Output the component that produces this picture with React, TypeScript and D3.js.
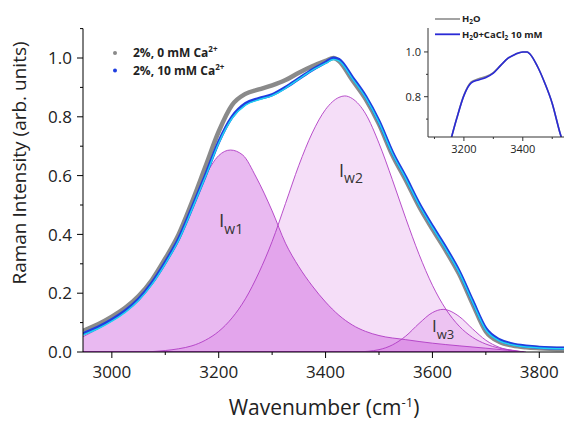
import * as d3 from 'd3';

// main spectra (wavenumber grid shared by the measured curves and the fit)
const specWn = [2946, 2975, 3000, 3025, 3050, 3075, 3100, 3125, 3150, 3175, 3200, 3225, 3250, 3275, 3300, 3325, 3350, 3375, 3400, 3415, 3425, 3450, 3475, 3500, 3525, 3550, 3575, 3600, 3625, 3650, 3675, 3700, 3725, 3750, 3775, 3800, 3850];
const spec0mM = [0.072, 0.095, 0.12, 0.15, 0.19, 0.245, 0.318, 0.4, 0.51, 0.63, 0.75, 0.84, 0.878, 0.893, 0.907, 0.925, 0.95, 0.972, 0.99, 1.0, 0.99, 0.925, 0.86, 0.775, 0.67, 0.585, 0.495, 0.418, 0.345, 0.265, 0.165, 0.07, 0.035, 0.022, 0.016, 0.013, 0.01];
const spec10mM = [0.062, 0.085, 0.11, 0.14, 0.18, 0.235, 0.305, 0.385, 0.49, 0.6, 0.715, 0.8, 0.845, 0.862, 0.875, 0.9, 0.93, 0.96, 0.985, 1.0, 0.995, 0.935, 0.87, 0.785, 0.68, 0.595, 0.505, 0.428, 0.355, 0.275, 0.175, 0.08, 0.042, 0.027, 0.02, 0.016, 0.013];
const fitSum = [0.058, 0.08, 0.105, 0.135, 0.175, 0.23, 0.3, 0.38, 0.485, 0.595, 0.71, 0.795, 0.84, 0.858, 0.872, 0.897, 0.928, 0.958, 0.982, 0.995, 0.99, 0.93, 0.865, 0.78, 0.675, 0.59, 0.5, 0.423, 0.35, 0.27, 0.17, 0.075, 0.038, 0.024, 0.017, 0.014, 0.011];

// fitted components
const iw1Wn = [2946, 2975, 3000, 3025, 3050, 3075, 3100, 3125, 3150, 3175, 3200, 3222, 3245, 3270, 3300, 3325, 3350, 3375, 3400, 3425, 3450, 3475, 3500, 3550, 3600, 3650, 3700, 3740, 3768];
const iw1Val = [0.052, 0.08, 0.108, 0.14, 0.18, 0.24, 0.32, 0.405, 0.51, 0.6, 0.668, 0.687, 0.67, 0.595, 0.48, 0.37, 0.29, 0.225, 0.17, 0.125, 0.092, 0.07, 0.056, 0.042, 0.03, 0.021, 0.013, 0.006, 0];
const iw2Wn = [3060, 3100, 3125, 3150, 3175, 3200, 3225, 3250, 3275, 3300, 3325, 3350, 3375, 3400, 3425, 3436, 3450, 3475, 3500, 3525, 3550, 3575, 3600, 3625, 3650, 3675, 3700, 3725, 3750, 3772];
const iw2Val = [0, 0.005, 0.011, 0.021, 0.04, 0.07, 0.116, 0.181, 0.269, 0.376, 0.505, 0.635, 0.745, 0.825, 0.866, 0.871, 0.862, 0.81, 0.71, 0.586, 0.455, 0.332, 0.227, 0.146, 0.088, 0.05, 0.027, 0.013, 0.006, 0];
const iw3Wn = [3460, 3500, 3525, 3550, 3575, 3600, 3620, 3650, 3675, 3700, 3725, 3750, 3775];
const iw3Val = [0, 0.008, 0.024, 0.054, 0.097, 0.134, 0.145, 0.121, 0.079, 0.04, 0.016, 0.005, 0];

// inset spectra
const insetWn = [3150, 3175, 3200, 3225, 3250, 3275, 3300, 3325, 3350, 3375, 3400, 3415, 3425, 3450, 3475, 3500, 3525, 3545];
const insetH2O = [0.58, 0.7, 0.807, 0.866, 0.88, 0.89, 0.908, 0.94, 0.972, 0.99, 1.0, 1.0, 0.99, 0.935, 0.86, 0.77, 0.645, 0.56];
const insetCaCl2 = [0.58, 0.7, 0.805, 0.862, 0.875, 0.886, 0.905, 0.94, 0.972, 0.99, 1.0, 1.0, 0.99, 0.935, 0.86, 0.77, 0.645, 0.56];

const xTicks = [3000, 3200, 3400, 3600, 3800];
const xMinor = [3100, 3300, 3500, 3700];
const yTicks = [0, 0.2, 0.4, 0.6, 0.8, 1.0];
const yMinor = [0.1, 0.3, 0.5, 0.7, 0.9, 1.1];
const insetXTicks = [3200, 3400];
const insetXMinor = [3100, 3300, 3500];
const insetYTicks = [0.8, 1.0];
const insetYMinor = [0.7, 0.9];

const FONT = "'Open Sans', sans-serif";

const pairs = (xs: number[], ys: number[]) => xs.map((v, i) => [v, ys[i]] as [number, number]);

export default function App() {
  const x = d3.scaleLinear().domain([2946, 3850]).range([83, 566]);
  const y = d3.scaleLinear().domain([0, 1.1]).range([352, 28.6]);
  const xi = d3.scaleLinear().domain([3078, 3540]).range([428, 564]);
  const yi = d3.scaleLinear().domain([0.62, 1.107]).range([137, 28]);

  const line = d3.line<[number, number]>().x(d => x(d[0])).y(d => y(d[1])).curve(d3.curveMonotoneX);
  const area = d3.area<[number, number]>().x(d => x(d[0])).y0(y(0)).y1(d => y(d[1])).curve(d3.curveMonotoneX);
  const lineInset = d3.line<[number, number]>().x(d => xi(d[0])).y(d => yi(d[1])).curve(d3.curveMonotoneX);

  const comps = [
    { d: pairs(iw1Wn, iw1Val), op: 0.4 },
    { d: pairs(iw2Wn, iw2Val), op: 0.19 },
    { d: pairs(iw3Wn, iw3Val), op: 0.19 },
  ];

  return (
    <svg width={564} height={421} style={{ position: 'absolute', left: 0, top: 0, background: '#fff' }} fontFamily={FONT}>
      <defs>
        <clipPath id="plot">
          <rect x={83} y={28} width={483} height={324} />
        </clipPath>
        <clipPath id="inset">
          <rect x={428} y={28} width={136} height={109} />
        </clipPath>
      </defs>

      <g clipPath="url(#plot)">
        {comps.map((c, i) => (
          <path key={'a' + i} d={area(c.d) || ''} fill="#c850dc" fillOpacity={c.op} />
        ))}
        {comps.map((c, i) => (
          <path key={'l' + i} d={line(c.d) || ''} fill="none" stroke="#b03cc4" strokeWidth={0.9} />
        ))}
        <line x1={83} x2={x(3770)} y1={y(0) - 0.5} y2={y(0) - 0.5} stroke="#b03cc4" strokeWidth={1.2} />
        <path d={line(pairs(specWn, spec0mM)) || ''} fill="none" stroke="#8a8a8a" strokeWidth={4.5} strokeLinejoin="round" />
        <path d={line(pairs(specWn, spec10mM)) || ''} fill="none" stroke="#1f3ee0" strokeWidth={3.2} strokeLinejoin="round" />
        <path d={line(pairs(specWn, fitSum)) || ''} fill="none" stroke="#1ed2f2" strokeWidth={1.5} />
      </g>

      {/* main axes */}
      <line x1={83} x2={83} y1={y(1.1)} y2={352} stroke="#000" strokeWidth={1} />
      <line x1={83} x2={564} y1={352} y2={352} stroke="#000" strokeWidth={1} />
      {yTicks.map(t => (
        <g key={'y' + t}>
          <line x1={77} x2={83} y1={y(t)} y2={y(t)} stroke="#000" />
          <text x={72} y={y(t)} dy="0.36em" textAnchor="end" fontSize={17} fill="#222">{t.toFixed(1)}</text>
        </g>
      ))}
      {yMinor.map(t => (
        <line key={'ym' + t} x1={80} x2={83} y1={y(t)} y2={y(t)} stroke="#000" />
      ))}
      {xTicks.map(t => (
        <g key={'x' + t}>
          <line x1={x(t)} x2={x(t)} y1={352} y2={358} stroke="#000" />
          <text x={x(t)} y={378} textAnchor="middle" fontSize={17} fill="#222">{t}</text>
        </g>
      ))}
      {xMinor.map(t => (
        <line key={'xm' + t} x1={x(t)} x2={x(t)} y1={352} y2={355} stroke="#000" />
      ))}
      <text x={324} y={415} textAnchor="middle" fontSize={21} fill="#222">
        Wavenumber (cm<tspan dy={-8} fontSize={13}>-1</tspan><tspan dy={8}>)</tspan>
      </text>
      <text transform="translate(26,163) rotate(-90)" textAnchor="middle" fontSize={19} fill="#222">
        Raman Intensity (arb. units)
      </text>

      {/* component labels */}
      <text x={219} y={227} fontSize={19} fill="#333">I<tspan dy={7} fontSize={14}>w1</tspan></text>
      <text x={339} y={177} fontSize={18} fill="#333">I<tspan dy={6} fontSize={14}>w2</tspan></text>
      <text x={432} y={332} fontSize={17} fill="#333">I<tspan dy={7} fontSize={13}>w3</tspan></text>

      {/* legend */}
      <circle cx={115} cy={53} r={2} fill="#8a8a8a" />
      <text x={133} y={57} fontSize={12} fontWeight="bold" fill="#222">
        2%, 0 mM Ca<tspan dy={-5} fontSize={8}>2+</tspan>
      </text>
      <circle cx={115} cy={70.5} r={2} fill="#1f3ee0" />
      <text x={133} y={75} fontSize={12} fontWeight="bold" fill="#222">
        2%, 10 mM Ca<tspan dy={-5} fontSize={8}>2+</tspan>
      </text>

      {/* inset */}
      <g clipPath="url(#inset)">
        <path d={lineInset(pairs(insetWn, insetH2O)) || ''} fill="none" stroke="#8c8c8c" strokeWidth={1.6} />
        <path d={lineInset(pairs(insetWn, insetCaCl2)) || ''} fill="none" stroke="#2a2ad6" strokeWidth={1.6} />
      </g>
      <line x1={428} x2={428} y1={28} y2={137} stroke="#333" />
      <line x1={428} x2={564} y1={137} y2={137} stroke="#333" />
      {insetYTicks.map(t => (
        <g key={'iy' + t}>
          <line x1={424} x2={428} y1={yi(t)} y2={yi(t)} stroke="#333" />
          <text x={421} y={yi(t)} dy="0.36em" textAnchor="end" fontSize={11} fill="#222">{t.toFixed(1)}</text>
        </g>
      ))}
      {insetYMinor.map(t => (
        <line key={'iym' + t} x1={426} x2={428} y1={yi(t)} y2={yi(t)} stroke="#333" />
      ))}
      {insetXTicks.map(t => (
        <g key={'ix' + t}>
          <line x1={xi(t)} x2={xi(t)} y1={137} y2={141} stroke="#333" />
          <text x={xi(t)} y={153} textAnchor="middle" fontSize={11} fill="#222">{t}</text>
        </g>
      ))}
      {insetXMinor.map(t => (
        <line key={'ixm' + t} x1={xi(t)} x2={xi(t)} y1={137} y2={139} stroke="#333" />
      ))}
      <line x1={435} x2={460} y1={19} y2={19} stroke="#8c8c8c" strokeWidth={1.6} />
      <text x={462} y={22} fontSize={9.5} fontWeight="bold" fill="#222">
        H<tspan dy={2} fontSize={6.5}>2</tspan><tspan dy={-2}>O</tspan>
      </text>
      <line x1={435} x2={460} y1={34.3} y2={34.3} stroke="#2a2ad6" strokeWidth={1.8} />
      <text x={462} y={37.5} fontSize={9.5} fontWeight="bold" fill="#222">
        H<tspan dy={2} fontSize={6.5}>2</tspan><tspan dy={-2}>0+CaCl</tspan><tspan dy={2} fontSize={6.5}>2</tspan><tspan dy={-2}> 10 mM</tspan>
      </text>
    </svg>
  );
}
